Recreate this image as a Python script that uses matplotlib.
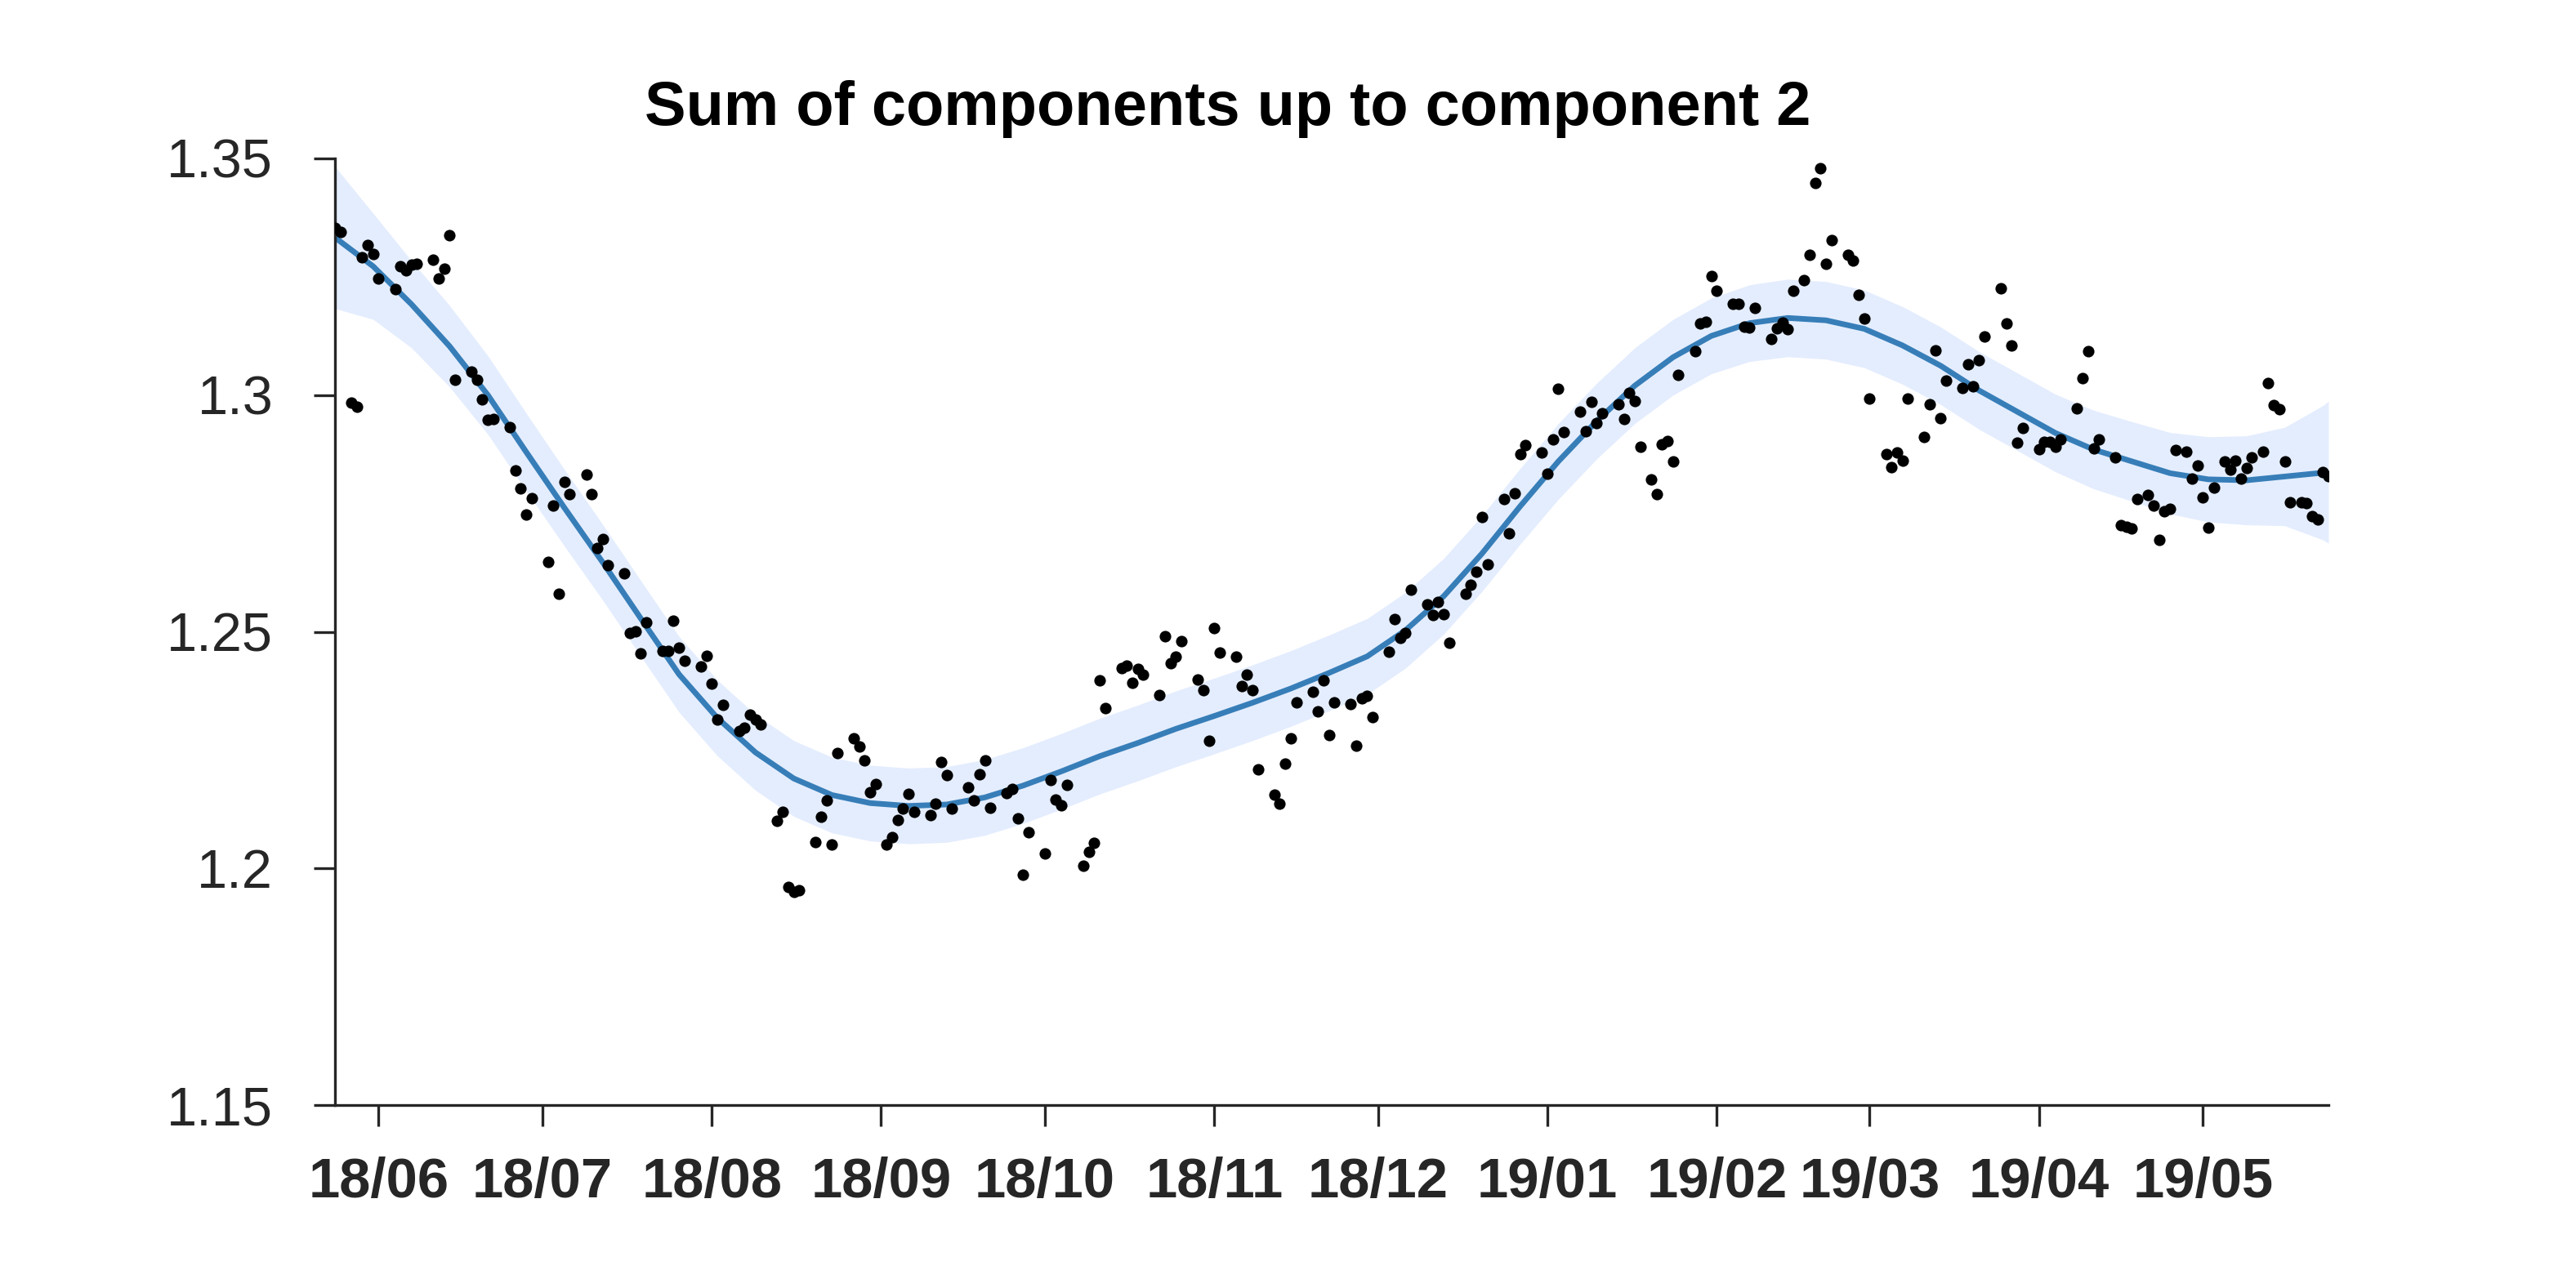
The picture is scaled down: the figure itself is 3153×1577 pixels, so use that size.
import numpy as np
import pandas as pd
import matplotlib
matplotlib.use("Agg")
import matplotlib.pyplot as plt
import matplotlib.dates as mdates

plt.rcParams['font.family'] = ['Liberation Sans', 'DejaVu Sans']

# observed daily values, one line per week (Mon-Fri, a few weeks also carry a Sunday quote)
rate = [
    1.3354, 1.3345,
    1.2984, 1.2976, 1.3292, 1.3317, 1.3298, 1.3246,
    1.3224, 1.3272, 1.3263, 1.3276, 1.3278,
    1.3286, 1.3247, 1.3267, 1.3337, 1.3032,
    1.3050, 1.3032, 1.2991, 1.2948, 1.2950,
    1.2933, 1.2840, 1.2802, 1.2747, 1.2783,
    1.2647, 1.2766, 1.2581, 1.2817, 1.2791,
    1.2832, 1.2791, 1.2677, 1.2696, 1.2640,
    1.2623, 1.2497, 1.2501, 1.2455, 1.2520,
    1.2459, 1.2459, 1.2523, 1.2466, 1.2439,
    1.2426, 1.2449, 1.2390, 1.2314, 1.2346,
    1.2291, 1.2297, 1.2324, 1.2314, 1.2304,
    1.2100, 1.2119, 1.1960, 1.1950, 1.1953,
    1.2056, 1.2110, 1.2144, 1.2050, 1.2244,
    1.2274, 1.2258, 1.2228, 1.2161, 1.2179,
    1.2051, 1.2066, 1.2103, 1.2126, 1.2157, 1.2119,
    1.2113, 1.2137, 1.2224, 1.2198, 1.2126,
    1.2172, 1.2144, 1.2199, 1.2229, 1.2128,
    1.2159, 1.2168, 1.2105, 1.1987, 1.2076,
    1.2032, 1.2186, 1.2145, 1.2133, 1.2176,
    1.2006, 1.2035, 1.2054, 1.2398, 1.2339,
    1.2424, 1.2429, 1.2393, 1.2422, 1.2409,
    1.2367, 1.2491, 1.2433, 1.2448, 1.2481,
    1.2399, 1.2376, 1.2270, 1.2508, 1.2456,
    1.2448, 1.2386, 1.2410, 1.2376, 1.2210,
    1.2156, 1.2136, 1.2222, 1.2274, 1.2351,
    1.2373, 1.2331, 1.2398, 1.2282, 1.2351,
    1.2347, 1.2259, 1.2359, 1.2364, 1.2320,
    1.2457, 1.2526, 1.2487, 1.2498, 1.2589,
    1.2557, 1.2536, 1.2563, 1.2537, 1.2477,
    1.2581, 1.2599, 1.2627, 1.2742, 1.2643,
    1.2781, 1.2708, 1.2793, 1.2875, 1.2894,
    1.2878, 1.2834, 1.2906, 1.3013, 1.2922,
    1.2965, 1.2924, 1.2986, 1.2941, 1.2961,
    1.2981, 1.2949, 1.3005, 1.2988, 1.2890,
    1.2821, 1.2791, 1.2896, 1.2903, 1.2860, 1.3042,
    1.3093, 1.3152, 1.3155, 1.3252, 1.3221,
    1.3193, 1.3192, 1.3145, 1.3143, 1.3185,
    1.3119, 1.3141, 1.3154, 1.3140, 1.3221,
    1.3243, 1.3296, 1.3448, 1.3479, 1.3278, 1.3328,
    1.3296, 1.3285, 1.3212, 1.3161, 1.2993,
    1.2875, 1.2848, 1.2878, 1.2862, 1.2993,
    1.2912, 1.2981, 1.3094, 1.2952, 1.3030,
    1.3015, 1.3065, 1.3018, 1.3073, 1.3123,
    1.3226, 1.3151, 1.3105, 1.2899, 1.2931,
    1.2885, 1.2901, 1.2902, 1.2890, 1.2906,
    1.2972, 1.3036, 1.3092, 1.2888, 1.2907,
    1.2869, 1.2726, 1.2722, 1.2719, 1.2780,
    1.2789, 1.2767, 1.2694, 1.2755, 1.2759, 1.2884,
    1.2880, 1.2823, 1.2851, 1.2784, 1.2720, 1.2804,
    1.2860, 1.2842, 1.2861, 1.2823, 1.2846, 1.2868,
    1.2880, 1.3026, 1.2978, 1.2971, 1.2860, 1.2774,
    1.2774, 1.2772, 1.2744, 1.2738, 1.2837, 1.2829,
]
sundays = ['2018-05-27', '2018-09-02', '2019-01-20', '2019-02-17',
           '2019-04-21', '2019-04-28', '2019-05-05', '2019-05-12', '2019-05-19']
dates = pd.bdate_range('2018-05-24', '2019-05-24').union(pd.to_datetime(sundays))

# fitted component sum, read weekly, with half width of the band
fit_dates = list(pd.date_range('2018-05-24', '2019-05-23', freq='7D')) + [pd.Timestamp('2019-05-24')]
fit = [1.3333, 1.3272, 1.3192, 1.3103, 1.3000, 1.2880, 1.2762, 1.2647, 1.2528, 1.2410,
       1.2318, 1.2245, 1.2190, 1.2155, 1.2138, 1.2132, 1.2135, 1.2150, 1.2175, 1.2205,
       1.2237, 1.2265, 1.2295, 1.2322, 1.2350, 1.2380, 1.2413, 1.2448, 1.2503, 1.2575,
       1.2665, 1.2765, 1.2860, 1.2945, 1.3020, 1.3080, 1.3125, 1.3152, 1.3163, 1.3158,
       1.3140, 1.3105, 1.3062, 1.3010, 1.2965, 1.2920, 1.2885, 1.2860, 1.2835, 1.2822,
       1.2820, 1.2828, 1.2836, 1.2837]
half = [0.0150, 0.0112, 0.0092, 0.0086, 0.0083, 0.0082, 0.0081, 0.0080, 0.0080, 0.0080,
        0.0080, 0.0080, 0.0080, 0.0080, 0.0080, 0.0080, 0.0080, 0.0080, 0.0080, 0.0080,
        0.0080, 0.0080, 0.0080, 0.0080, 0.0080, 0.0080, 0.0080, 0.0080, 0.0080, 0.0080,
        0.0080, 0.0080, 0.0080, 0.0080, 0.0080, 0.0080, 0.0080, 0.0081, 0.0082, 0.0082,
        0.0082, 0.0082, 0.0082, 0.0082, 0.0082, 0.0082, 0.0083, 0.0084, 0.0086, 0.0090,
        0.0094, 0.0104, 0.0142, 0.0150]

yticks = [1.15, 1.2, 1.25, 1.3, 1.35]
ytick_labels = ['1.15', '1.2', '1.25', '1.3', '1.35']

dark = '#262626'
W, H = 3153, 1577
fig = plt.figure(figsize=(W / 300, H / 300), dpi=300)
ax = fig.add_axes([410 / W, 1 - 1353 / H, (2850 - 410) / W, (1353 - 194) / H])

fit = np.array(fit)
half = np.array(half)
ax.fill_between(fit_dates, fit - half, fit + half, color='#e4edfe', lw=0, zorder=1)
ax.plot(fit_dates, fit, color='#377eb8', lw=1.65, solid_joinstyle='round', zorder=2)
ax.plot(dates, rate, 'o', color='black', markersize=3.4, markeredgewidth=0, zorder=3)

ax.set_xlim(dates[0], dates[-1])
ax.set_ylim(1.15, 1.35)
ax.set_yticks(yticks)
ax.set_yticklabels(ytick_labels)
ax.xaxis.set_major_locator(mdates.MonthLocator())
ax.xaxis.set_major_formatter(mdates.DateFormatter('%y/%m'))

for side in ['top', 'right']:
    ax.spines[side].set_visible(False)
for side in ['left', 'bottom']:
    ax.spines[side].set_linewidth(0.8)
    ax.spines[side].set_color(dark)

ax.tick_params(direction='out', length=6.2, width=0.8, color=dark, labelcolor=dark)
ax.tick_params(axis='y', labelsize=16, pad=12)
ax.tick_params(axis='x', labelsize=16.5, pad=9)
for lab in ax.get_xticklabels():
    lab.set_fontweight('bold')

fig.text(1503 / W, 1 - 153 / H, 'Sum of components up to component 2',
         ha='center', va='baseline', fontsize=18.2, fontweight='bold', color='black')

fig.savefig('out.png', dpi=300)
